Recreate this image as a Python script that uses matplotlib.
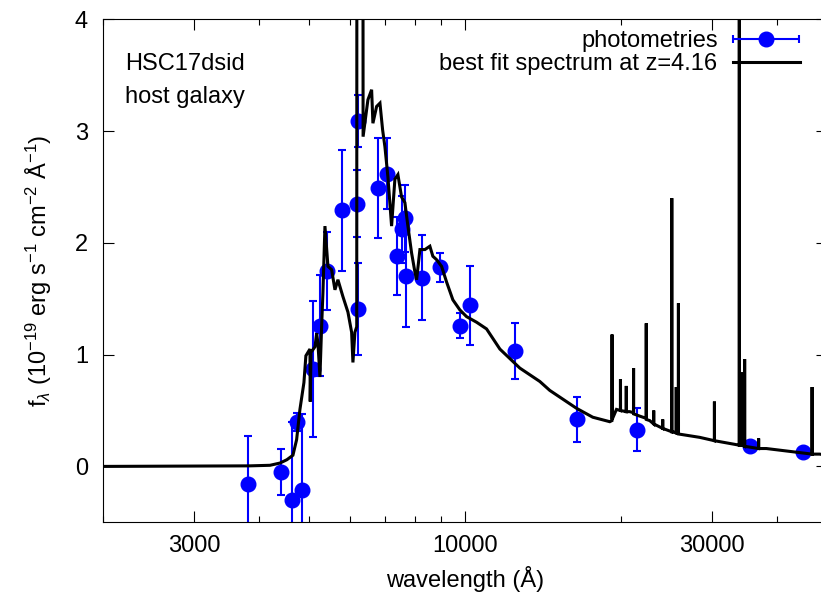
import matplotlib
matplotlib.use("Agg")
import numpy as np
import matplotlib.pyplot as plt
from matplotlib.ticker import FixedLocator, NullFormatter, FixedFormatter
from matplotlib.legend_handler import HandlerErrorbar

plt.rcParams['font.family'] = ['Liberation Sans', 'DejaVu Sans']
plt.rcParams['mathtext.fontset'] = 'custom'
plt.rcParams['mathtext.rm'] = 'Liberation Sans'
plt.rcParams['mathtext.it'] = 'Liberation Sans:italic'
plt.rcParams['mathtext.bf'] = 'Liberation Sans:bold'

# ---------------- data ----------------
# photometric points (observed wavelength in Angstrom, flux, error)
phot_wave = [3809, 4417, 4634, 4736, 4842, 5098, 5253, 5412, 5782, 6180,
             6224, 6224, 6786, 7081, 7385, 7549, 7661, 7695, 8251, 8951,
             9781, 10224, 12485, 16426, 21490, 35450, 44930]
phot_flux = [-0.16, -0.05, -0.30, 0.40, -0.21, 0.87, 1.26, 1.75, 2.29, 2.35,
             3.09, 1.41, 2.49, 2.62, 1.88, 2.12, 2.22, 1.70, 1.69, 1.78,
             1.26, 1.44, 1.03, 0.42, 0.33, 0.18, 0.125]
phot_err = [0.43, 0.21, 0.70, 0.08, 0.68, 0.61, 0.45, 0.35, 0.54, 0.30,
            0.23, 0.41, 0.45, 0.32, 0.35, 0.30, 0.30, 0.45, 0.38, 0.13,
            0.11, 0.35, 0.25, 0.20, 0.19, 0.03, 0.03]

# best-fit model spectrum (observed wavelength in Angstrom, flux)
spec_wave = [2000, 3848, 4206, 4397, 4535, 4658, 4735, 4805, 4891, 4934,
             4979, 5024, 5030, 5047, 5137, 5176, 5206, 5252, 5292, 5322,
             5370, 5442, 5532, 5614, 5689, 5816, 5948, 6046, 6081, 6135,
             6185, 6190, 6357, 6362, 6462, 6500, 6608, 6646, 6756, 6857,
             6939, 7010, 7104, 7221, 7328, 7427, 7549, 7661, 7764, 7892,
             8009, 8070, 8190, 8374, 8560, 8675, 8818, 9017, 9220, 9482,
             9781, 10076, 10534, 11013, 11684, 12765, 13953, 14585, 16424, 17658,
             19043, 19231, 19237, 19243, 19617, 19964, 19970, 19976, 20485, 20491,
             20497, 20808, 21160, 21166, 21172, 21752, 22388, 22394, 22400, 22741,
             23142, 23148, 23154, 24087, 24093, 24099, 25077, 25083, 25089, 25189,
             25582, 25588, 25594, 25830, 25836, 25842, 28395, 30314, 30320, 30326,
             32873, 33859, 33865, 33871, 34314, 34320, 34326, 34668, 34674, 34680,
             36892, 36898, 36904, 38181, 46790, 46796, 46802, 48377, 49174, 49180,
             49186, 50000]
spec_flux = [0.0, 0.005, 0.01, 0.03, 0.06, 0.10, 0.24, 0.51, 0.75, 0.99,
             1.02, 1.05, 0.58, 1.02, 1.07, 1.19, 1.10, 0.80, 1.26, 1.55,
             2.15, 1.79, 1.76, 1.58, 1.67, 1.52, 1.38, 1.20, 0.93, 1.20,
             1.25, 6.00, 6.00, 2.95, 3.19, 3.28, 3.37, 3.07, 3.22, 3.25,
             3.01, 2.86, 2.59, 2.15, 2.57, 2.61, 2.41, 2.36, 2.15, 1.91,
             1.74, 1.67, 1.94, 1.94, 1.97, 1.88, 1.85, 1.79, 1.65, 1.49,
             1.40, 1.34, 1.29, 1.23, 1.05, 0.88, 0.76, 0.68, 0.52, 0.44,
             0.40, 0.41, 1.18, 0.42, 0.51, 0.50, 0.78, 0.50, 0.49, 0.72,
             0.49, 0.49, 0.48, 0.88, 0.47, 0.45, 0.43, 1.28, 0.42, 0.41,
             0.38, 0.50, 0.38, 0.34, 0.42, 0.34, 0.31, 2.40, 0.31, 0.31,
             0.30, 0.71, 0.30, 0.30, 1.46, 0.29, 0.26, 0.23, 0.58, 0.23,
             0.20, 0.19, 6.00, 0.19, 0.19, 0.84, 0.19, 0.18, 0.96, 0.18,
             0.16, 0.25, 0.16, 0.16, 0.11, 0.71, 0.11, 0.11, 0.105, 0.20,
             0.105, 0.10]

xmajor = [3000, 10000, 30000]
xmajor_labels = ['3000', '10000', '30000']
xminor = [2000, 4000, 5000, 6000, 7000, 8000, 9000, 20000, 40000]
yticks = [0, 1, 2, 3, 4]

# ---------------- figure ----------------
W, H = 821, 596
fig = plt.figure(figsize=(W / 100, H / 100), dpi=100)
left, right, top, bottom = 102.7, 827.0, 19.3, 522.3
ax = fig.add_axes([left / W, 1 - bottom / H, (right - left) / W, (bottom - top) / H])

eb = ax.errorbar(phot_wave, phot_flux, yerr=phot_err, fmt='o', color='#0000ff',
                 ecolor='#0000ff', markersize=10.5, elinewidth=1.5, capsize=2.8,
                 capthick=1.5, zorder=2)
spec_line, = ax.plot(spec_wave, spec_flux, color='black', lw=2.2, zorder=3,
                     solid_joinstyle='miter')

# legend handle: horizontal error bar like the gnuplot key sample (no visible data)
leg_eb = ax.errorbar([np.nan], [np.nan], xerr=[np.nan], fmt='o', color='#0000ff',
                     ecolor='#0000ff', markersize=10.5, elinewidth=1.5, capsize=2.8,
                     capthick=1.5)

ax.set_xscale('log')
ax.set_xlim(2000, 50000)
ax.set_ylim(-0.5, 4)

ax.xaxis.set_major_locator(FixedLocator(xmajor))
ax.xaxis.set_major_formatter(FixedFormatter(xmajor_labels))
ax.xaxis.set_minor_locator(FixedLocator(xminor))
ax.xaxis.set_minor_formatter(NullFormatter())
ax.yaxis.set_major_locator(FixedLocator(yticks))
ax.yaxis.set_minor_locator(FixedLocator([]))

ax.tick_params(which='both', direction='in', top=True, right=True,
               labelsize=17, width=0.8, colors='black')
ax.tick_params(which='major', length=8)
ax.tick_params(which='minor', length=4)
ax.tick_params(axis='x', which='major', pad=9.5)
ax.tick_params(axis='y', which='major', pad=10.5)
for s in ax.spines.values():
    s.set_linewidth(0.8)

ax.set_xlabel('wavelength (Å)', fontsize=17, labelpad=6)
ax.set_ylabel(r'f$_\lambda$ (10$^{-19}$ erg s$^{-1}$ cm$^{-2}$ Å$^{-1}$)',
              fontsize=17, labelpad=15)

ax.text(125 / W, 1 - 64 / H, 'HSC17dsid', transform=fig.transFigure,
        fontsize=17, va='center', ha='left')
ax.text(125 / W, 1 - 97 / H, 'host galaxy', transform=fig.transFigure,
        fontsize=17, va='center', ha='left')

leg = fig.legend([leg_eb, spec_line], ['photometries', 'best fit spectrum at z=4.16'],
                 loc='upper right', bbox_to_anchor=(800 / W, 1 - 30 / H),
                 frameon=False, markerfirst=False, fontsize=17,
                 handlelength=2.85, handletextpad=0.64, labelspacing=0.05,
                 borderpad=0, borderaxespad=0,
                 handler_map={type(leg_eb): HandlerErrorbar(xerr_size=1.4)})

fig.savefig('out.png', dpi=100)
